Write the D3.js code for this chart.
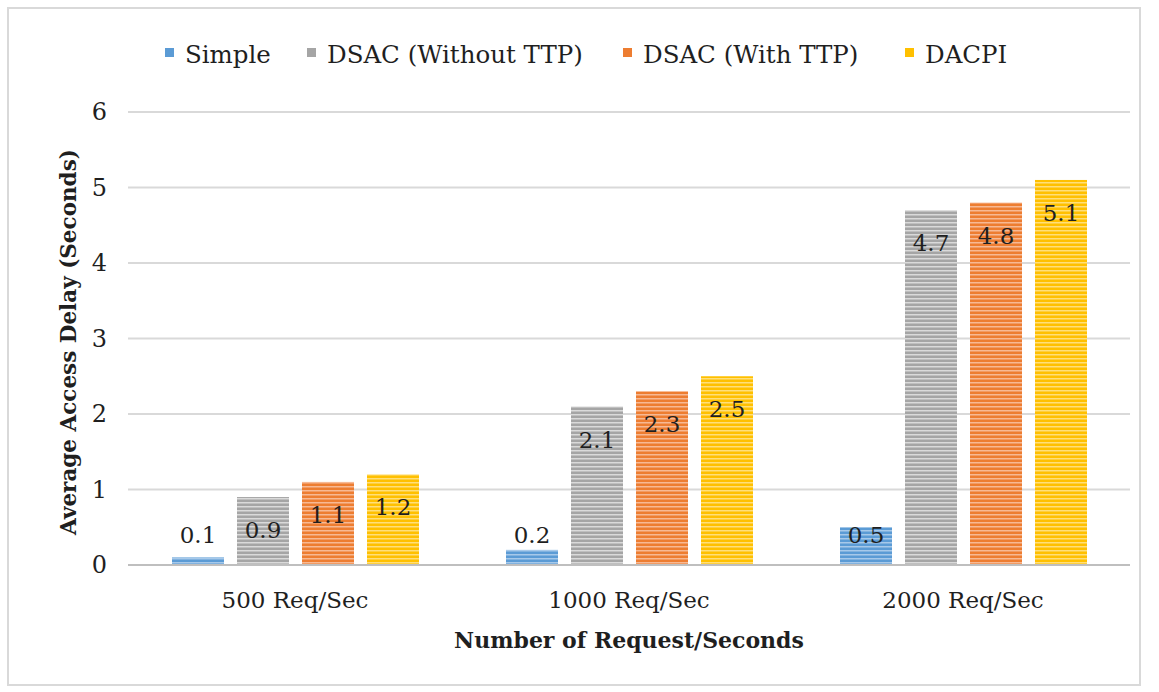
<!DOCTYPE html>
<html>
<head>
<meta charset="utf-8">
<script src="https://cdn.jsdelivr.net/npm/d3@7"></script>
<style>
  body { margin: 0; background: #fff; }
  svg text { fill: #1f1f1f; }
</style>
</head>
<body>
<div id="viz-container"></div>
<script>
// data
const categories = ["500 Req/Sec", "1000 Req/Sec", "2000 Req/Sec"];
const seriesNames = ["Simple", "DSAC (Without TTP)", "DSAC (With TTP)", "DACPI"];
const simple = [0.1, 0.2, 0.5];
const dsacWithout = [0.9, 2.1, 4.7];
const dsacWith = [1.1, 2.3, 4.8];
const dacpi = [1.2, 2.5, 5.1];
const yTicks = [0, 1, 2, 3, 4, 5, 6];
const colors = ["#5b9bd5", "#a5a5a5", "#ed7d31", "#ffc000"];
const stripeColors = ["#a7c9ea", "#dadada", "#f7b994", "#ffdf7a"];

const allSeries = [simple, dsacWithout, dsacWith, dacpi];

const width = 1159, height = 692;
const margin = { left: 128, right: 29, top: 112, bottom: 127 };
const fontFam = '"DejaVu Serif", serif';
const fs = 23;

const svg = d3.select("#viz-container").append("svg")
  .attr("width", width).attr("height", height)
  .attr("font-family", fontFam);

// outer frame
svg.append("rect")
  .attr("x", 8).attr("y", 8).attr("width", 1132).attr("height", 677)
  .attr("fill", "#fff").attr("stroke", "#d9d9d9").attr("stroke-width", 2);

// striped fills
const defs = svg.append("defs");
colors.forEach((c, i) => {
  const p = defs.append("pattern")
    .attr("id", "stripe" + i).attr("patternUnits", "userSpaceOnUse")
    .attr("width", 8).attr("height", 4);
  p.append("rect").attr("width", 8).attr("height", 4).attr("fill", c);
  p.append("rect").attr("y", 2).attr("width", 8).attr("height", 1.5).attr("fill", stripeColors[i]);
});

const x0 = d3.scaleBand().domain(categories)
  .range([margin.left, width - margin.right]).paddingInner(0).paddingOuter(0);
const x1 = d3.scaleBand().domain(d3.range(seriesNames.length))
  .range([44, x0.bandwidth() - 43]).paddingInner(0.2).paddingOuter(0);
const y = d3.scaleLinear().domain([0, 6]).range([height - margin.bottom, margin.top]);

// gridlines
svg.append("g").selectAll("line").data(yTicks.slice(1)).join("line")
  .attr("x1", margin.left).attr("x2", width - margin.right)
  .attr("y1", d => y(d)).attr("y2", d => y(d))
  .attr("stroke", "#d9d9d9").attr("stroke-width", 2);

// y tick labels
svg.append("g").selectAll("text").data(yTicks).join("text")
  .attr("x", 107).attr("y", d => y(d)).attr("dy", "0.35em")
  .attr("text-anchor", "end").attr("font-size", 24)
  .text(d => d);

// bars
const groups = svg.append("g").selectAll("g").data(categories).join("g")
  .attr("transform", d => `translate(${x0(d)},0)`);

groups.each(function(cat, ci) {
  const g = d3.select(this);
  allSeries.forEach((vals, si) => {
    const v = vals[ci];
    g.append("rect")
      .attr("x", x1(si)).attr("width", x1.bandwidth())
      .attr("y", y(v)).attr("height", y(0) - y(v))
      .attr("fill", `url(#stripe${si})`);
    // labels sit inside the bar top, small bars get them just above the axis
    const ly = Math.min(y(v) + 33, y(0) - 30);
    g.append("text")
      .attr("x", x1(si) + x1.bandwidth() / 2).attr("y", ly).attr("dy", "0.35em")
      .attr("text-anchor", "middle").attr("font-size", fs)
      .text(v);
  });
});

// x axis line
svg.append("line")
  .attr("x1", margin.left).attr("x2", width - margin.right)
  .attr("y1", y(0)).attr("y2", y(0))
  .attr("stroke", "#bfbfbf").attr("stroke-width", 2);

// x tick labels
svg.append("g").selectAll("text").data(categories).join("text")
  .attr("x", d => x0(d) + x0.bandwidth() / 2).attr("y", 600).attr("dy", "0.35em")
  .attr("text-anchor", "middle").attr("font-size", fs)
  .text(d => d);

// axis titles
svg.append("text")
  .attr("x", 629).attr("y", 640).attr("dy", "0.35em")
  .attr("text-anchor", "middle").attr("font-size", 22).attr("font-weight", "bold")
  .text("Number of Request/Seconds");

svg.append("text")
  .attr("transform", "translate(68,342) rotate(-90)").attr("dy", "0.35em")
  .attr("text-anchor", "middle").attr("font-size", 21.5).attr("font-weight", "bold")
  .text("Average Access Delay (Seconds)");

// legend
const legendX = [165, 307, 623, 905];
const legend = svg.append("g").selectAll("g").data(seriesNames).join("g")
  .attr("transform", (d, i) => `translate(${legendX[i]},52)`);
legend.append("rect").attr("x", 0).attr("y", -4).attr("width", 9).attr("height", 9)
  .attr("fill", (d, i) => colors[i]);
legend.append("text").attr("x", 20).attr("y", 2).attr("dy", "0.35em")
  .attr("font-size", 24.5).text(d => d);
</script>
</body>
</html>
